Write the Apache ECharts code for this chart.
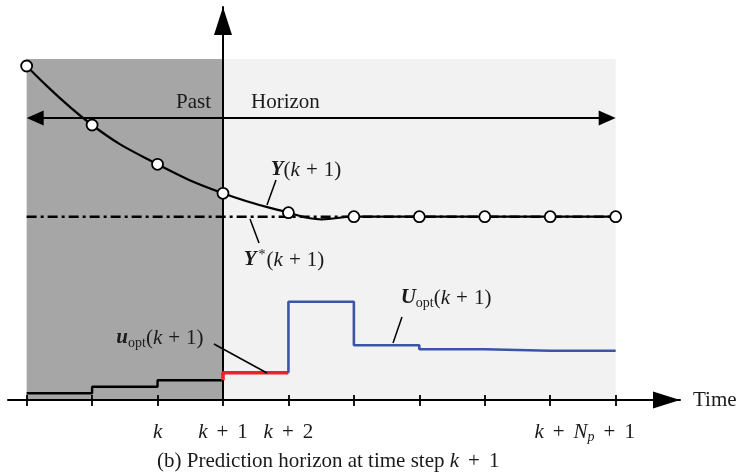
<!DOCTYPE html>
<html>
<head>
<meta charset="utf-8">
<script src="https://cdn.jsdelivr.net/npm/echarts@6/dist/echarts.min.js"></script>
<style>html,body{margin:0;padding:0;background:#fff}#c{width:740px;height:474px}</style>
</head>
<body>
<div id="c"></div>
<script>
// ---- data (time steps relative to k+1 = 0) ----
const steps = [-3, -2, -1, 0, 1, 2, 3, 4, 5, 6];
const tickSteps = [-1, 0, 1, 6];
const tickLabels = ['{i|k}', '{i|k}{w| }{r|+}{w| }{r|1}', '{i|k}{w| }{r|+}{w| }{r|2}',
  '{i|k}{w| }{r|+}{w| }{i|N}{subi|p}{w| }{r|+}{w| }{r|1}{pad| }'];
const outputSamples = [334, 275, 235.7, 206.7, 187.3, 183.3, 183.3, 183.3, 183.3, 183.3];
const curveSteps = [-3, -2, -1, 0, 1, 1.5, 2, 3, 4, 5, 6];
const outputCurve = [334, 275, 235.7, 206.7, 187.3, 180.7, 183.3, 183.3, 183.3, 183.3, 183.3];
const reference = 183.3;
const pastInputs = [6.7, 13.3, 19.7];
const currentInput = 27.3;
const futureInputs = [98.3, 54.7, 50.7, 49.3, 49.3];
const regionTop = 341;
const horizonArrowLevel = 282;

const F = '"Liberation Serif","DejaVu Serif",serif';
const TXT = '#1a1a1a';
const FS = 21;
const richBase = {
  r:   {fontFamily: F, fontSize: FS, lineHeight: 24, color: TXT, fontWeight: 'normal'},
  i:   {fontFamily: F, fontSize: FS, lineHeight: 24, color: TXT, fontStyle: 'italic', fontWeight: 'normal'},
  bi:  {fontFamily: F, fontSize: FS, lineHeight: 24, color: TXT, fontStyle: 'italic', fontWeight: 'bold'},
  sub: {fontFamily: F, fontSize: 14, lineHeight: 13, color: TXT, verticalAlign: 'bottom', fontWeight: 'normal'},
  subi:{fontFamily: F, fontSize: 14, lineHeight: 13, color: TXT, verticalAlign: 'bottom', fontStyle: 'italic', fontWeight: 'normal'},
  sup: {fontFamily: F, fontSize: 14, lineHeight: 14, color: TXT, verticalAlign: 'top', fontWeight: 'normal', padding: [0, 1, 0, 2]},
  s:   {fontFamily: F, fontSize: FS, lineHeight: 24, width: 6},
  w:   {fontFamily: F, fontSize: FS, lineHeight: 24, width: 9},
  pad: {fontFamily: F, fontSize: FS, lineHeight: 24, width: 62}
};

// build series data from arrays
const pastData = pastInputs.map((v, i) => [steps[i], v]);
pastData.push([0, pastInputs[pastInputs.length - 1]]);
const nowData = [[0, pastInputs[pastInputs.length - 1]], [0, currentInput], [1, currentInput]];
const futData = [[1, currentInput]];
futureInputs.forEach((v, i) => futData.push([1 + i, v]));
futData.push([1 + futureInputs.length, futureInputs[futureInputs.length - 1]]);
const sampleData = steps.map((s, i) => [s, outputSamples[i]]);
const curveData = curveSteps.map((s, i) => [s, outputCurve[i]]);
const refData = [[steps[0], reference], [steps[steps.length - 1], reference]];

const kp1 = '{r|(}{i|k}{s| }{r|+}{s| }{r|1)}';
const annotations = [
  {value: [-0.183, 298], text: '{r|Past}', pos: 'left'},
  {value: [0.428, 298], text: '{r|Horizon}', pos: 'right'},
  {value: [1.268, 230], text: '{bi|Y}' + kp1, pos: 'inside'},
  {value: [0.932, 140], text: '{bi|Y}{sup|*}' + kp1, pos: 'inside'},
  {value: [3.408, 102], text: '{bi|U}{sub|opt}' + kp1, pos: 'inside'},
  {value: [-0.963, 62], text: '{bi|u}{sub|opt}' + kp1, pos: 'inside'}
];

const chart = echarts.init(document.getElementById('c'), null, {renderer: 'canvas'});
chart.setOption({
  animation: false,
  backgroundColor: '#fff',
  title: {
    text: '{r|(b) Prediction horizon at time step }{i|k}{w| }{r|+}{w| }{r|1}',
    left: 152, top: 444,
    textStyle: {fontWeight: 'normal', rich: richBase}
  },
  grid: {left: 8, right: 60, top: 7, bottom: 74, containLabel: false},
  xAxis: [{
    type: 'value', min: -3.285, max: 6.983, position: 'bottom', z: 1.5,
    name: 'Time', nameLocation: 'end', nameGap: 13,
    nameTextStyle: {fontFamily: F, fontSize: FS, color: TXT, align: 'left', verticalAlign: 'middle'},
    axisLine: {show: true, onZero: true, symbol: ['none', 'triangle'], symbolSize: [17, 27], symbolOffset: [0, -13.5],
      lineStyle: {color: '#000', width: 2}},
    axisTick: {show: true, customValues: steps, length: 6, lineStyle: {color: '#000', width: 1.8}},
    axisLabel: {show: true, customValues: tickSteps, margin: 20,
      formatter: v => tickLabels[tickSteps.indexOf(v)], rich: richBase},
    splitLine: {show: false}
  }, {
    type: 'value', min: -3.285, max: 6.983, position: 'bottom', z: 1.5,
    axisLine: {show: false},
    axisTick: {show: true, inside: true, customValues: steps, length: 5, lineStyle: {color: '#000', width: 1.8}},
    axisLabel: {show: false}, splitLine: {show: false}
  }],
  yAxis: {
    type: 'value', min: 0, max: 393, z: 1.5,
    axisLine: {show: true, onZero: true, symbol: ['none', 'triangle'], symbolSize: [18, 28], symbolOffset: [0, -14],
      lineStyle: {color: '#000', width: 2}},
    axisTick: {show: false}, axisLabel: {show: false}, splitLine: {show: false}
  },
  series: [
    {
      type: 'line', name: 'reference', data: refData, symbol: 'none',
      lineStyle: {color: '#000', width: 2.6, type: [10, 4, 3, 4]},
      markArea: {
        silent: true,
        data: [
          [{coord: [steps[0], 0], itemStyle: {color: '#a6a6a6'}}, {coord: [0, regionTop]}],
          [{coord: [0, 0], itemStyle: {color: '#f2f2f2'}}, {coord: [steps[steps.length - 1], regionTop]}]
        ]
      }
    },
    {
      type: 'line', name: 'output', data: curveData, smooth: 0.45, symbol: 'none',
      lineStyle: {color: '#000', width: 2.2}
    },
    {
      type: 'scatter', name: 'samples', data: sampleData, symbol: 'circle', symbolSize: 11, z: 4,
      itemStyle: {color: '#fff', borderColor: '#000', borderWidth: 1.8, opacity: 1}
    },
    {
      type: 'line', name: 'past input', data: pastData, step: 'end', symbol: 'none',
      lineStyle: {color: '#000', width: 2.4}
    },
    {
      type: 'line', name: 'current input', data: nowData, symbol: 'none', z: 3,
      lineStyle: {color: '#ee2222', width: 3.6}
    },
    {
      type: 'line', name: 'future input', data: futData, step: 'end', symbol: 'none',
      lineStyle: {color: '#3a55a8', width: 2.6}
    },
    {
      type: 'scatter', name: 'annotations', symbolSize: 0, clip: false, silent: true, z: 6,
      itemStyle: {opacity: 1},
      data: annotations.map(a => ({
        value: a.value,
        label: {show: true, position: a.pos, distance: 0, formatter: a.text, rich: richBase}
      })),
      markLine: {
        silent: true, symbol: 'none', label: {show: false},
        lineStyle: {color: '#000', width: 1.5, type: 'solid'},
        data: [
          [{coord: [0.672, 195]}, {coord: [0.810, 220]}],
          [{coord: [0.413, 181]}, {coord: [0.550, 157]}],
          [{coord: [2.598, 57]}, {coord: [2.735, 83]}],
          [{coord: [-0.138, 56]}, {coord: [0.672, 27]}]
        ]
      }
    },
    {
      type: 'line', name: 'horizon arrow', data: [], symbol: 'none',
      markLine: {
        silent: true, symbol: ['triangle', 'triangle'], symbolSize: [15, 17], label: {show: false},
        lineStyle: {color: '#000', width: 1.8, type: 'solid'},
        data: [[{coord: [steps[0] + 0.13, horizonArrowLevel]}, {coord: [steps[steps.length - 1] - 0.13, horizonArrowLevel]}]]
      }
    }
  ]
});
</script>
</body>
</html>
